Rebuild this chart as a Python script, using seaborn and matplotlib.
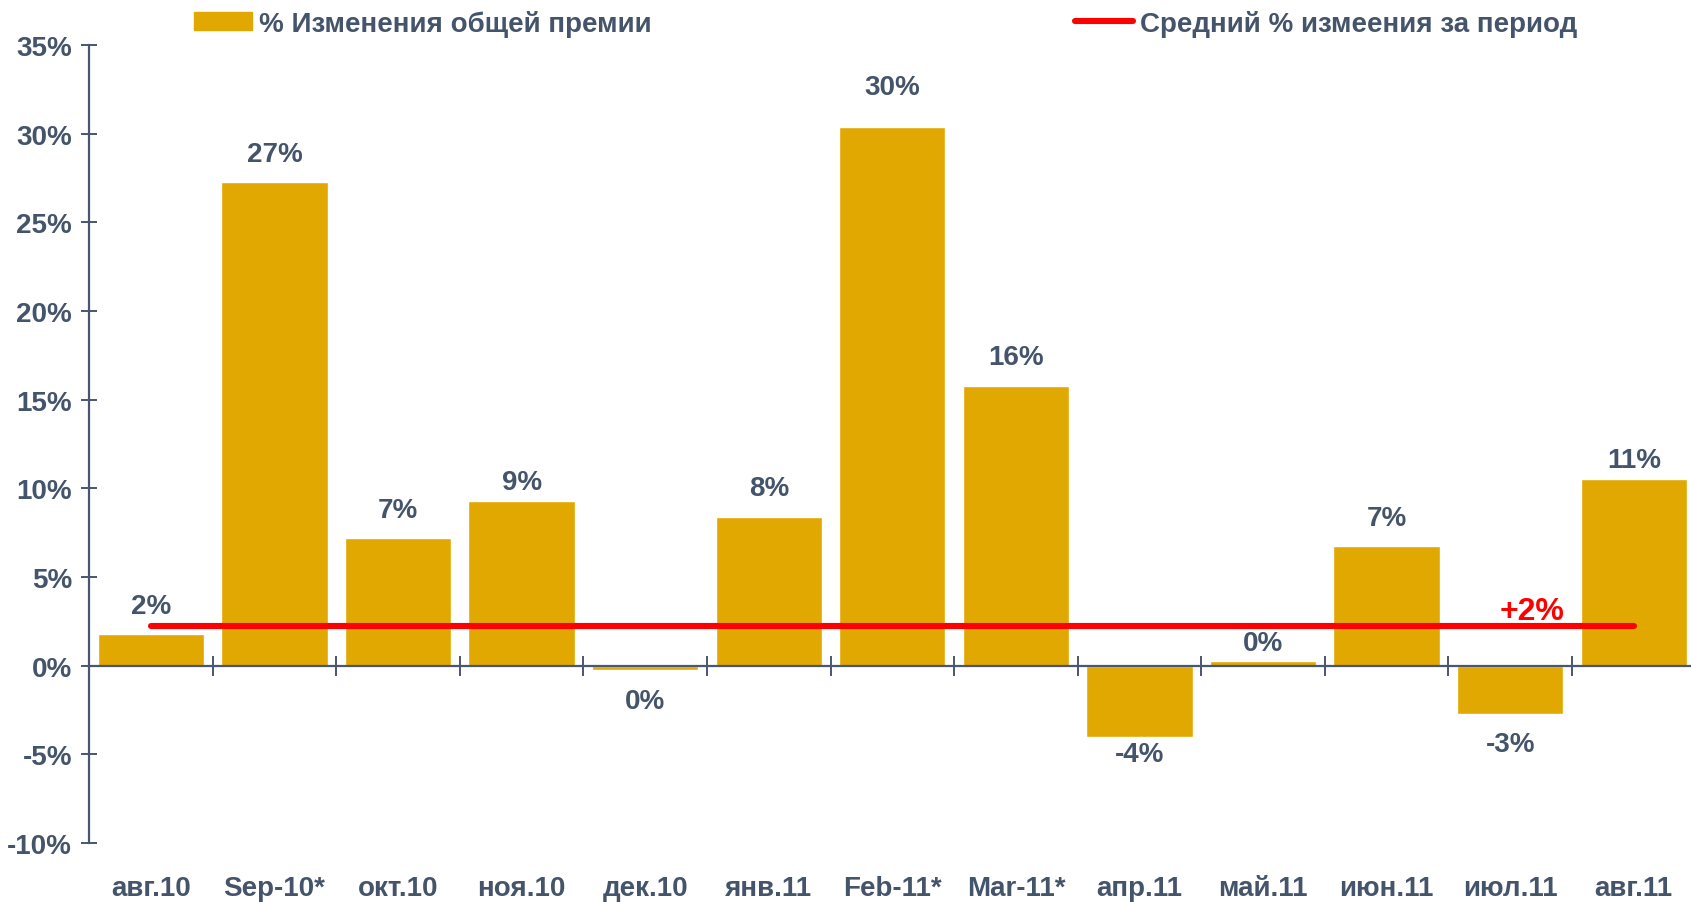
import numpy as np
import matplotlib
matplotlib.use("Agg")
import matplotlib.pyplot as plt
from matplotlib.patches import Patch
from matplotlib.lines import Line2D
import seaborn as sns

# chart data
months = ['авг.10', 'Sep-10*', 'окт.10', 'ноя.10', 'дек.10', 'янв.11', 'Feb-11*',
          'Mar-11*', 'апр.11', 'май.11', 'июн.11', 'июл.11', 'авг.11']
change_pct = [1.76, 27.25, 7.18, 9.3, -0.25, 8.4, 30.4, 15.8, -4.0, 0.25, 6.75, -2.74, 10.55]
avg_pct = 2.26
avg_label = '+2%'
y_ticks = [-10, -5, 0, 5, 10, 15, 20, 25, 30, 35]
legend_bars = '% Изменения общей премии'
legend_line = 'Средний % измеения за период'

# label distance from each bar end (points)
label_pad = [11, 11, 11, 4, 13, 11, 19, 11, 3, 4, 11, 12, 4]

bar_color = '#E0A800'
text_color = '#44546A'
axis_color = '#4A5570'

sns.set_style('white')
plt.rcParams['font.family'] = ['Liberation Sans', 'DejaVu Sans']
plt.rcParams['font.weight'] = 'bold'

fig = plt.figure(figsize=(16.91, 9.03), dpi=100)
ax = fig.add_axes([89.1 / 1691, 0.0653, 1 - 89.1 / 1691, 0.8837])

sns.barplot(x=months, y=change_pct, color=bar_color, saturation=1, width=0.86,
            errorbar=None, ax=ax)

# average line across the period
ax.plot([0, len(months) - 1], [avg_pct, avg_pct], color='#FF0000', lw=4.4,
        solid_capstyle='round', zorder=3)
ax.annotate(avg_label, xy=(11.18, avg_pct), xytext=(0, 5), textcoords='offset points',
            ha='center', va='baseline', color='#FF0000', fontsize=23, fontweight='bold')

# value labels, above positive bars and below negative ones
for bar, v, pad in zip(ax.containers[0].patches, change_pct, label_pad):
    h = bar.get_height()
    up = h >= 0
    ax.annotate(f"{round(v)}%", xy=(bar.get_x() + bar.get_width() / 2, h),
                xytext=(0, pad if up else -pad), textcoords='offset points',
                ha='center', va='bottom' if up else 'top',
                fontsize=20, fontweight='bold', color=text_color)

ax.set_xlim(-0.5, 12.463)
ax.set_ylim(-10, 35)
ax.set_yticks(y_ticks)
ax.set_yticklabels([f"{t}%" for t in y_ticks])

for s in ['top', 'right']:
    ax.spines[s].set_visible(False)
ax.spines['bottom'].set_position(('data', 0))
for s in ['left', 'bottom']:
    ax.spines[s].set_color(axis_color)
    ax.spines[s].set_linewidth(1.6)

ax.set_xticks(np.arange(len(months)))
ax.set_xticks(np.arange(0.5, len(months) - 1, 1), minor=True)
ax.tick_params(axis='x', which='both', bottom=True)
ax.tick_params(axis='y', which='major', left=True)
ax.tick_params(axis='x', which='major', length=0, pad=151, labelsize=20,
               labelcolor=text_color)
ax.tick_params(axis='x', which='minor', direction='inout', length=13.7, width=1.4,
               color=axis_color)
ax.tick_params(axis='y', direction='inout', length=11.5, width=1.4, color=axis_color,
               pad=6.5, labelsize=20, labelcolor=text_color)
for lbl in ax.get_xticklabels() + ax.get_yticklabels():
    lbl.set_fontweight('bold')
ax.set_xlabel('')
ax.set_ylabel('')

# legend entries at the top
fig.legend(handles=[Patch(color=bar_color)], labels=[legend_bars], loc='center left',
           bbox_to_anchor=(194 / 1691, 0.973), frameon=False, fontsize=20,
           handlelength=2.09, handleheight=0.58, handletextpad=0.25,
           borderpad=0, borderaxespad=0, labelcolor=text_color)
fig.legend(handles=[Line2D([0], [0], color='#FF0000', lw=4.4, solid_capstyle='round')],
           labels=[legend_line], loc='center left',
           bbox_to_anchor=(1075 / 1691, 0.973), frameon=False, fontsize=20,
           handlelength=2.09, handletextpad=0.25,
           borderpad=0, borderaxespad=0, labelcolor=text_color)

fig.savefig('out.png', dpi=100)
